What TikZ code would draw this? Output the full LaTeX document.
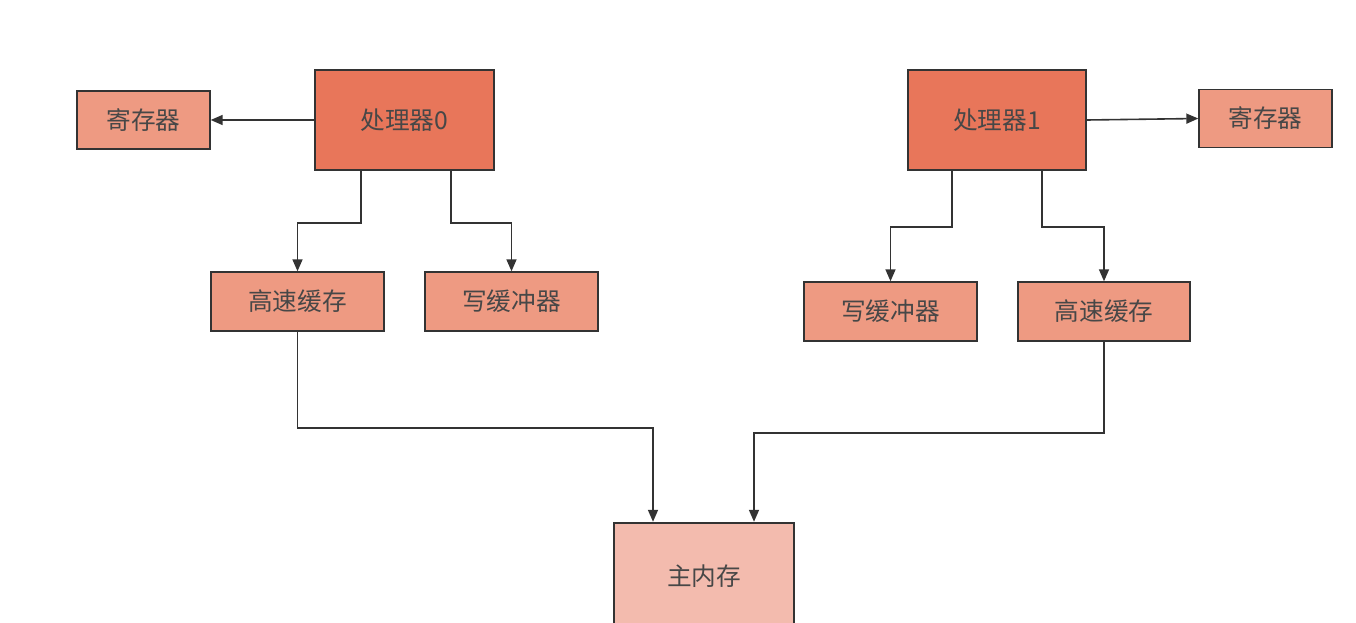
\documentclass[tikz,border=0pt]{standalone}
\usepackage{fontspec}
\newfontfamily\cjk{Noto Sans CJK SC}
\usetikzlibrary{arrows.meta,positioning}
\definecolor{procOrange}{RGB}{232,118,90}
\definecolor{boxSalmon}{RGB}{238,154,130}
\definecolor{memPink}{RGB}{243,187,174}
\definecolor{lineGray}{RGB}{51,51,51}

\begin{document}
\begin{tikzpicture}[x=0.75pt, y=-0.75pt,
  every node/.style={font=\cjk\fontsize{18.5}{22}\selectfont, text=lineGray!90},
  procbox/.style={draw=lineGray, line width=1.3pt, fill=procOrange, minimum width=134pt, minimum height=75pt},
  unitbox/.style={draw=lineGray, line width=1.3pt, fill=boxSalmon, minimum width=129.5pt, minimum height=44pt},
  regbox/.style={draw=lineGray, line width=1.3pt, fill=boxSalmon, minimum width=99.5pt, minimum height=43.5pt},
  membox/.style={draw=lineGray, line width=1.3pt, fill=memPink, minimum width=135pt, minimum height=80pt},
  conn/.style={-{Triangle[length=9pt, width=7.5pt]}, line width=1.2pt, lineGray}]
  \path[use as bounding box, fill=white] (0,0) rectangle (1356,623);
  % Processor 0 (left)
  \node[procbox] (p0) at (404.5,120) {处理器0};
  \node[regbox]  (r0) at (143.5,120) {寄存器};
  \node[unitbox] (c0) at (297.5,301.5) {高速缓存};
  \node[unitbox] (w0) at (511.5,301.5) {写缓冲器};
  % Processor 1 (right)
  \node[procbox] (p1) at (997,120) {处理器1};
  \node[regbox]  (r1) at (1265.5,118.5) {寄存器};
  \node[unitbox] (w1) at (890.5,311.5) {写缓冲器};
  \node[unitbox] (c1) at (1104,311.5) {高速缓存};
  % Main memory
  \node[membox] (m) at (704,576) {主内存};
  % Processor 0 arrows
  \draw[conn] (p0.west) -- (r0.east);
  \draw[conn] (p0.south) ++(-43.5,0) -- ++(0,52) -| (c0.north);
  \draw[conn] (p0.south) ++(46.5,0) -- ++(0,52) -| (w0.north);
  % Processor 1 arrows
  \draw[conn] (p1.east) -- (r1.west);
  \draw[conn] (p1.south) ++(-45,0) -- ++(0,56) -| (w1.north);
  \draw[conn] (p1.south) ++(45,0) -- ++(0,56) -| (c1.north);
  % Caches to main memory
  \draw[conn] (c0.south) -- ++(0,96) -| ([xshift=-38.25pt]m.north);
  \draw[conn] (c1.south) -- ++(0,91) -| ([xshift=37.5pt]m.north);
\end{tikzpicture}
\end{document}
